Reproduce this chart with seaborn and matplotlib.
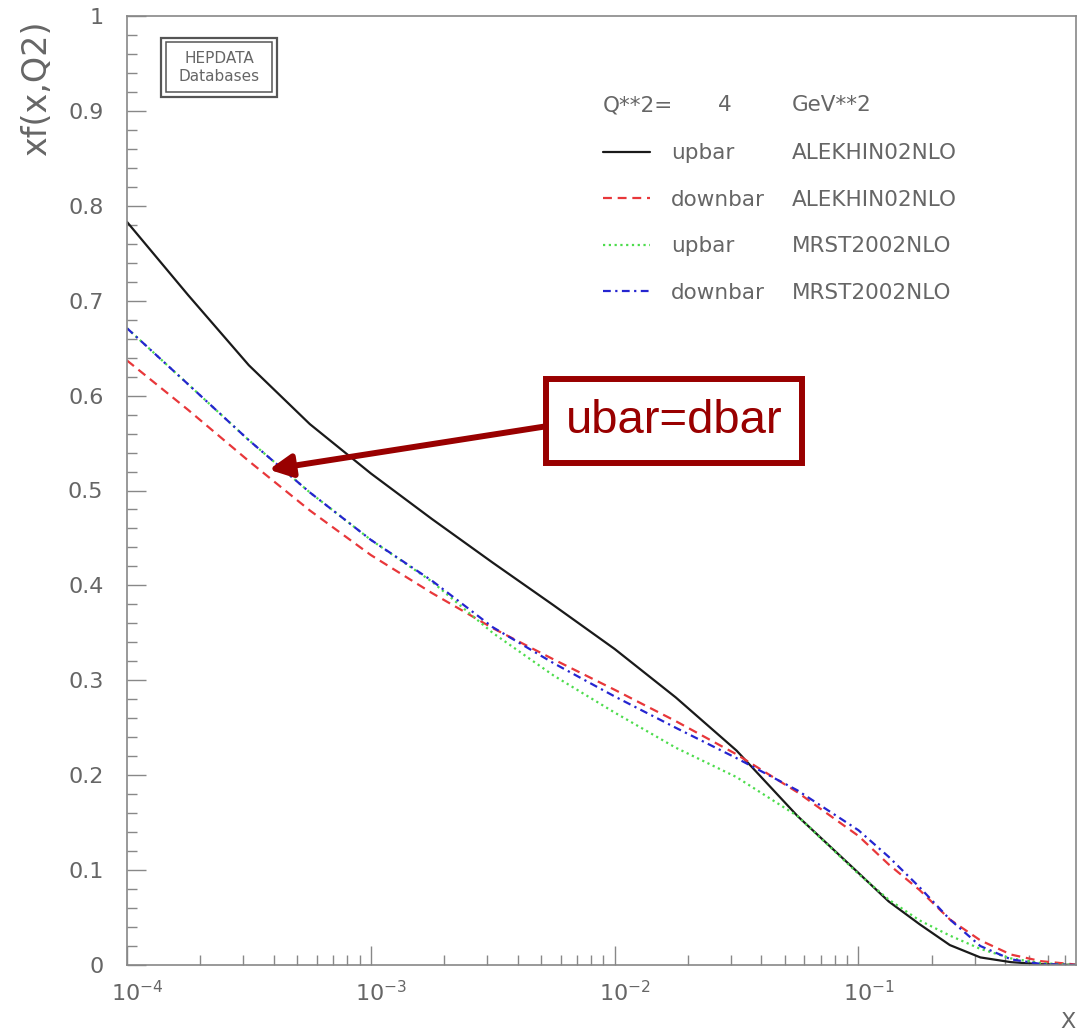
import numpy as np
import pandas as pd
import matplotlib
matplotlib.use("Agg")
import matplotlib.pyplot as plt
import seaborn as sns
from matplotlib.patches import Rectangle
from matplotlib.transforms import ScaledTranslation
from matplotlib.ticker import FixedLocator, LogLocator, NullFormatter, MultipleLocator, FixedFormatter

# ---------------- data ----------------
x_values = [1.0e-4, 1.78e-4, 3.16e-4, 5.62e-4, 1.0e-3, 1.78e-3, 3.16e-3, 5.62e-3,
            1.0e-2, 1.78e-2, 3.16e-2, 5.62e-2, 0.1, 0.133, 0.178, 0.237,
            0.316, 0.422, 0.562, 0.78]
upbar_alekhin = [0.783, 0.706, 0.632, 0.570, 0.518, 0.470, 0.424, 0.379,
                 0.333, 0.282, 0.226, 0.157, 0.097, 0.067, 0.043, 0.021,
                 0.008, 0.003, 0.0008, 0.0]
downbar_alekhin = [0.637, 0.585, 0.531, 0.479, 0.432, 0.392, 0.355, 0.322,
                   0.290, 0.257, 0.222, 0.182, 0.136, 0.106, 0.079, 0.048,
                   0.026, 0.011, 0.004, 0.0005]
upbar_mrst = [0.671, 0.612, 0.553, 0.498, 0.448, 0.404, 0.350, 0.305,
              0.266, 0.229, 0.198, 0.157, 0.096, 0.069, 0.047, 0.031,
              0.017, 0.007, 0.002, 0.0]
downbar_mrst = [0.671, 0.612, 0.553, 0.498, 0.448, 0.405, 0.356, 0.318,
                0.283, 0.250, 0.218, 0.184, 0.142, 0.114, 0.082, 0.048,
                0.020, 0.006, 0.001, 0.0]

series_names = ["upbar ALEKHIN02NLO", "downbar ALEKHIN02NLO",
                "upbar MRST2002NLO", "downbar MRST2002NLO"]
flavours = ["upbar", "downbar", "upbar", "downbar"]
pdf_sets = ["ALEKHIN02NLO", "ALEKHIN02NLO", "MRST2002NLO", "MRST2002NLO"]
series_values = [upbar_alekhin, downbar_alekhin, upbar_mrst, downbar_mrst]

y_ticks = [0, 0.1, 0.2, 0.3, 0.4, 0.5, 0.6, 0.7, 0.8, 0.9, 1.0]
y_tick_labels = ["0", "0.1", "0.2", "0.3", "0.4", "0.5", "0.6", "0.7", "0.8", "0.9", "1"]
x_ticks = [1e-4, 1e-3, 1e-2, 1e-1]
x_tick_labels = [r"$10^{-4}$", r"$10^{-3}$", r"$10^{-2}$", r"$10^{-1}$"]
x_limits = [1e-4, 0.78]
y_limits = [0, 1]

q2_parts = ["Q**2=", "4", "GeV**2"]
annotation_text = "ubar=dbar"
annotation_target = (3.82e-4, 0.522)
logo_lines = ["HEPDATA", "Databases"]

palette = {series_names[0]: "#1a1a1a", series_names[1]: "#e8373a",
           series_names[2]: "#4ddc4d", series_names[3]: "#2525d0"}
dashes = {series_names[0]: "", series_names[1]: (4, 2.6),
          series_names[2]: (1, 1.6), series_names[3]: (3.5, 2, 1, 2)}

# ---------------- figure ----------------
sns.set_theme(style="white")
plt.rcParams['font.family'] = ['DejaVu Sans']
plt.rcParams['mathtext.fontset'] = 'dejavusans'

W, H = 1084, 1031
fig = plt.figure(figsize=(W / 100, H / 100), dpi=100)
ax = fig.add_axes([127 / W, 66 / H, 949 / W, 949 / H])

df = pd.concat([pd.DataFrame({"x": x_values, "xf": vals, "series": name})
                for name, vals in zip(series_names, series_values)],
               ignore_index=True)

sns.lineplot(data=df, x="x", y="xf", hue="series", style="series",
             hue_order=series_names, style_order=series_names,
             palette=palette, dashes=dashes, linewidth=1.6,
             estimator=None, legend=False, ax=ax)

ax.set_xscale("log")
ax.set_xlim(*x_limits)
ax.set_ylim(*y_limits)

grey = "#666666"
ax.xaxis.set_major_locator(FixedLocator(x_ticks))
ax.xaxis.set_major_formatter(FixedFormatter(x_tick_labels))
ax.xaxis.set_minor_locator(LogLocator(base=10, subs=[2, 3, 4, 5, 6, 7, 8, 9], numticks=20))
ax.xaxis.set_minor_formatter(NullFormatter())
ax.yaxis.set_major_locator(FixedLocator(y_ticks))
ax.yaxis.set_major_formatter(FixedFormatter(y_tick_labels))
ax.yaxis.set_minor_locator(MultipleLocator(0.02))

ax.tick_params(which="both", direction="in", bottom=True, left=True, top=False, right=False,
               color="#888888", width=1.0)
ax.tick_params(which="major", length=13.5, labelsize=16, labelcolor=grey)
ax.tick_params(which="minor", length=7)
ax.tick_params(axis="y", which="major", pad=17)
ax.tick_params(axis="x", which="major", pad=11)

shift = ScaledTranslation(10 / 100, 0, fig.dpi_scale_trans)
for lab in ax.get_xticklabels():
    lab.set_transform(lab.get_transform() + shift)

for sp in ax.spines.values():
    sp.set_color("#888888")
    sp.set_linewidth(1.2)

ax.set_ylabel("xf(x,Q2)", fontsize=24, color=grey)
ax.yaxis.set_label_coords(-0.078, 0.924)
ax.set_xlabel("X", fontsize=16, color=grey)
ax.xaxis.set_label_coords(0.9916, -0.050)

# legend
handles = ax.lines[:4]
leg = ax.legend(handles=handles, labels=flavours, loc="upper left",
                bbox_to_anchor=(0.5016, 0.8657), frameon=False, fontsize=15.5,
                handlelength=2.2, handletextpad=0.95, labelspacing=1.23,
                borderpad=0, borderaxespad=0)
for t in leg.get_texts():
    t.set_color(grey)

fig.canvas.draw()
inv = ax.transAxes.inverted()
for t, name in zip(leg.get_texts(), pdf_sets):
    bb = t.get_window_extent()
    yc = inv.transform(((bb.x0 + bb.x1) / 2, (bb.y0 + bb.y1) / 2))[1]
    ax.text(0.7007, yc, name, transform=ax.transAxes, fontsize=15.5,
            color=grey, ha="left", va="center")

for xp, part in zip([0.5016, 0.6228, 0.7007], q2_parts):
    ax.text(xp, 0.906, part, transform=ax.transAxes, fontsize=15.5,
            color=grey, ha="left", va="center")

# HEPDATA logo box
ax.add_patch(Rectangle((0.0358, 0.915), 0.1222, 0.062, transform=ax.transAxes,
                       fill=False, ec="#555555", lw=1.6))
ax.add_patch(Rectangle((0.0411, 0.920), 0.1117, 0.0526, transform=ax.transAxes,
                       fill=False, ec="#555555", lw=1.1))
ax.text(0.097, 0.955, logo_lines[0], transform=ax.transAxes, fontsize=11,
        color=grey, ha="center", va="center")
ax.text(0.097, 0.936, logo_lines[1], transform=ax.transAxes, fontsize=11,
        color=grey, ha="center", va="center")

# annotation
dark_red = "#990000"
ax.annotate(annotation_text, xy=annotation_target, xycoords="data",
            xytext=(0.5764, 0.5732), textcoords="axes fraction",
            ha="center", va="center", fontsize=34, color=dark_red,
            family=["Liberation Sans", "DejaVu Sans"],
            bbox=dict(boxstyle="square,pad=0.42", fc="white", ec=dark_red, lw=4.3),
            arrowprops=dict(arrowstyle="-|>,head_length=0.4,head_width=0.2",
                            color=dark_red, lw=4.3, relpos=(0, 0.45),
                            shrinkA=0, shrinkB=0, mutation_scale=34))

fig.savefig("out.png", dpi=100)
